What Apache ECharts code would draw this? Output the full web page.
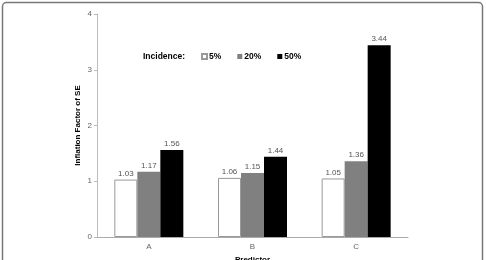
<!DOCTYPE html>
<html>
<head>
<meta charset="utf-8">
<script src="https://cdn.jsdelivr.net/npm/echarts@6/dist/echarts.min.js"></script>
<style>
  html, body { margin: 0; padding: 0; background: #fff; }
  #chart { width: 486px; height: 260px; }
</style>
</head>
<body>
<div id="chart"></div>
<script>
  // data
  const categories = ['A', 'B', 'C'];
  const seriesNames = ['5%', '20%', '50%'];
  const inc5 = [1.03, 1.06, 1.05];
  const inc20 = [1.17, 1.15, 1.36];
  const inc50 = [1.56, 1.44, 3.44];

  const font = '"Liberation Sans", Arial, sans-serif';
  const chart = echarts.init(document.getElementById('chart'));

  const label = {
    show: true,
    position: 'top',
    distance: 2,
    fontSize: 8,
    color: '#555',
    fontFamily: font,
    formatter: p => p.value.toFixed(2)
  };

  const option = {
    animation: false,
    textStyle: { fontFamily: font },
    grid: { left: 97, right: 78, top: 14, bottom: 23, outerBoundsMode: 'none' },
    graphic: [
      {
        type: 'rect',
        shape: { x: 2.5, y: 2.5, width: 480, height: 280, r: 4 },
        style: { fill: 'none', stroke: '#777', lineWidth: 1.5 },
        silent: true
      },
      {
        type: 'text',
        left: 143,
        top: 52,
        style: { text: 'Incidence:', font: 'bold 8.5px ' + font, fill: '#000' }
      }
    ],
    legend: {
      data: seriesNames,
      left: 201,
      top: 52,
      padding: 0,
      itemWidth: 5,
      itemHeight: 5,
      itemGap: 16,
      icon: 'rect',
      textStyle: { fontSize: 8.5, fontWeight: 'bold', color: '#000', padding: [0, 0, 0, -3] }
    },
    xAxis: {
      type: 'category',
      data: categories,
      name: 'Predictor',
      nameLocation: 'middle',
      nameGap: 19,
      nameMoveOverlap: false,
      nameTextStyle: { fontSize: 8, fontWeight: 'bold', color: '#000' },
      axisLine: { lineStyle: { color: '#aaa' } },
      axisTick: { show: false },
      axisLabel: { fontSize: 8, color: '#666', margin: 6 }
    },
    yAxis: {
      type: 'value',
      min: 0,
      max: 4,
      interval: 1,
      name: 'Inflation Factor of SE',
      nameLocation: 'middle',
      nameGap: 15,
      nameMoveOverlap: false,
      nameTextStyle: { fontSize: 8, fontWeight: 'bold', color: '#000' },
      axisLine: { show: true, lineStyle: { color: '#bbb' } },
      axisTick: { show: true, length: 3, lineStyle: { color: '#bbb' } },
      axisLabel: { fontSize: 8, color: '#666', margin: 5 },
      splitLine: { show: false }
    },
    series: [
      {
        name: seriesNames[0], type: 'bar', data: inc5, barWidth: 23, barGap: '0%',
        itemStyle: { color: '#fff', borderColor: '#999', borderWidth: 1 },
        label: label
      },
      {
        name: seriesNames[1], type: 'bar', data: inc20, barWidth: 23, barGap: '0%',
        itemStyle: { color: '#808080' },
        label: label
      },
      {
        name: seriesNames[2], type: 'bar', data: inc50, barWidth: 23, barGap: '0%',
        itemStyle: { color: '#000' },
        label: label
      }
    ]
  };

  chart.setOption(option);
</script>
</body>
</html>
